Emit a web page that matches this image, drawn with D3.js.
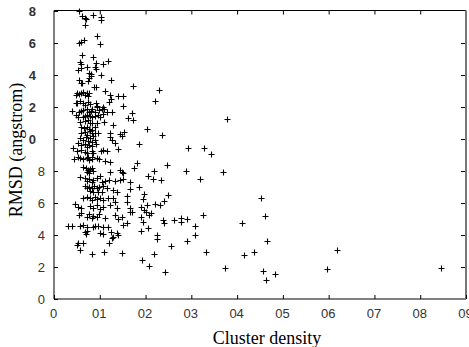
<!DOCTYPE html>
<html><head><meta charset="utf-8">
<script src="https://cdn.jsdelivr.net/npm/d3@7"></script>
<style>body{margin:0;background:#fff}svg{display:block}</style>
</head><body><svg id="c" width="469" height="347"></svg>
<script>
const xTickValues = [0,0.1,0.2,0.3,0.4,0.5,0.6,0.7,0.8,0.9];
const xTickLabels = ["0","01","02","03","04","05","06","07","08","09"];
const yTickValues = [0,2,4,6,8,10,12,14,16,18];
const yTickLabels = ["0","2","4","6","8","0","2","4","6","8"];
const xTitle = "Cluster density";
const yTitle = "RMSD (angstrom)";

const densityX = [
0.055,0.061,0.067,0.070,0.086,0.103,0.103,0.068,0.093,0.055,0.060,0.066,0.100,0.062,0.085,0.056,0.058,0.091,0.119,0.106,
0.060,0.071,0.090,0.091,0.052,0.077,0.081,0.080,0.076,0.102,0.124,0.054,0.059,0.074,
0.172,0.229,0.221,0.171,0.173,0.377,0.204,0.235,0.186,0.292,0.327,0.343,0.181,0.175,0.246,0.218,0.288,0.370,0.205,0.217,
0.233,0.320,0.166,0.166,0.186,0.197,0.194,0.250,0.240,0.232,0.221,0.203,0.190,0.453,0.166,0.166,0.197,0.202,0.207,0.211,
0.461,0.325,0.194,0.239,0.241,0.262,0.277,0.278,0.290,0.309,0.410,0.190,0.205,0.224,0.226,0.308,0.291,0.465,0.255,0.332,
0.218,0.416,0.437,0.193,0.207,0.242,0.373,0.457,0.463,0.483,0.597,0.619,0.845,
0.062,0.088,0.092,0.050,0.048,0.054,0.060,0.064,0.068,0.071,0.074,0.077,0.111,0.122,0.124,0.140,0.150,0.047,0.051,0.057,
0.064,0.068,0.075,0.079,0.092,0.093,0.108,0.110,0.121,0.151,0.039,0.055,0.060,0.064,0.073,0.077,0.080,0.084,0.090,0.093,
0.099,0.104,0.116,0.126,0.048,0.053,0.063,0.068,0.073,0.079,0.084,0.090,0.097,0.100,0.108,0.162,0.057,0.068,0.075,0.079,
0.084,0.093,0.109,0.129,0.060,0.066,0.071,0.077,0.082,0.090,0.060,0.068,0.071,0.079,0.082,0.086,0.090,0.097,0.122,0.144,
0.153,0.148,0.057,0.064,0.070,0.075,0.079,0.082,0.090,0.122,0.126,0.133,0.053,0.060,0.068,0.071,0.077,0.084,0.092,0.042,
0.050,0.060,0.068,0.073,0.082,0.086,0.102,0.106,0.116,0.140,0.044,0.057,0.064,0.075,0.084,0.099,
0.053,0.071,0.077,0.082,0.093,0.111,0.122,0.064,0.070,0.075,0.079,0.082,0.086,0.073,0.077,0.122,0.144,0.148,0.151,0.057,
0.068,0.071,0.077,0.082,0.086,0.093,0.100,0.104,0.111,0.121,0.133,0.144,0.151,0.068,0.073,0.077,0.082,0.087,0.093,0.099,
0.108,0.115,0.129,0.079,0.086,0.097,0.104,0.137,0.064,0.071,0.079,0.082,0.090,0.093,0.100,0.108,0.119,0.129,0.160,0.133,
0.159,0.046,0.053,0.060,0.079,0.086,0.093,0.100,0.108,0.122,0.137,0.055,0.060,0.071,0.077,0.082,0.086,0.093,0.099,0.111,
0.133,0.140,0.148,0.170,0.191,0.031,0.039,0.057,0.064,0.071,0.090,0.097,0.108,0.119,0.151,0.159,
0.086,0.068,0.073,0.070,0.100,0.106,0.124,0.128,0.126,0.137,0.139,0.053,0.050,0.063,0.057,0.082,0.110,0.121,0.148
];
const rmsdY = [
18.0,17.66,17.59,17.53,17.72,17.63,17.41,17.13,16.41,16.03,16.09,16.19,15.92,15.28,15.13,14.81,14.69,14.75,14.86,14.69,
14.46,14.52,14.5,14.36,14.29,14.13,14.04,13.92,13.83,14.02,13.71,13.69,13.52,13.63,
13.31,13.06,12.36,11.64,11.19,11.23,10.64,10.25,9.67,9.44,9.44,9.08,8.52,8.21,8.36,8.0,8.02,7.94,7.67,7.52,
7.44,7.52,7.33,6.86,7.0,6.54,6.27,6.48,6.14,5.88,5.96,5.89,5.77,6.31,5.67,5.46,5.56,5.46,5.25,5.36,
5.19,5.23,4.79,4.94,4.77,4.92,5.08,4.81,5.02,4.56,4.75,4.27,4.42,4.02,3.75,4.02,3.63,3.63,3.33,2.96,
2.79,2.73,2.94,2.42,2.04,1.67,1.92,1.77,1.19,1.54,1.89,3.08,1.94,
13.48,13.27,13.23,12.86,12.75,12.81,12.89,12.96,12.75,12.89,12.69,12.86,13.0,12.75,12.5,12.69,12.69,12.27,12.23,12.39,
12.23,12.13,12.31,12.19,12.27,12.06,12.02,11.86,12.31,12.06,11.77,11.71,11.77,11.81,11.86,11.71,11.77,11.86,11.71,11.98,
11.81,11.89,11.71,11.71,11.5,11.39,11.36,11.44,11.5,11.44,11.39,11.44,11.5,11.36,11.56,11.29,11.08,11.14,11.19,11.02,
10.98,10.98,11.08,10.88,10.77,10.67,10.77,10.61,10.56,10.73,10.36,10.46,10.25,10.52,10.36,10.19,10.39,10.36,10.36,10.31,
10.46,10.19,10.04,9.94,10.11,9.89,10.04,9.83,9.94,10.11,9.94,9.77,9.73,9.63,9.69,9.52,9.63,9.56,9.69,9.42,
9.27,9.31,9.21,9.11,9.27,9.11,9.27,9.31,9.27,9.36,8.73,8.79,8.73,8.86,8.77,8.73,
8.89,8.83,8.69,8.89,8.79,8.63,8.54,8.27,8.17,8.06,8.13,8.21,8.0,7.92,7.86,7.96,8.06,7.92,7.86,7.64,
7.54,7.38,7.5,7.33,7.44,7.54,7.71,7.33,7.38,7.44,7.38,7.44,7.5,7.08,6.96,7.02,6.92,7.08,6.96,7.02,
7.08,6.92,6.81,6.75,6.67,6.71,6.67,6.67,6.33,6.39,6.29,6.19,6.39,6.25,6.33,6.19,6.29,6.33,6.46,6.08,
6.08,5.92,5.77,5.67,5.83,5.71,5.88,5.63,5.77,5.88,5.67,5.25,5.36,5.14,5.29,5.04,5.21,5.14,5.29,5.04,
5.25,5.0,5.14,5.42,5.14,4.58,4.58,4.54,4.63,4.52,4.58,4.58,4.52,4.52,4.63,4.73,
4.52,4.17,4.25,4.04,4.11,4.04,4.21,3.89,3.79,4.11,4.0,3.48,3.38,3.48,3.06,2.79,2.96,3.48,2.86
];

const svg = d3.select("#c");
const L = 54, R = 466, T = 10.5, B = 299;
const x = d3.scaleLinear().domain([0, 0.9]).range([L, R]);
const y = d3.scaleLinear().domain([0, 18]).range([B, 11]);

// frame
svg.append("line").attr("x1",L).attr("x2",R).attr("y1",T).attr("y2",T).attr("stroke","#000").attr("stroke-width",1);
svg.append("line").attr("x1",L).attr("x2",L).attr("y1",T).attr("y2",B).attr("stroke","#000").attr("stroke-width",1);
svg.append("line").attr("x1",L).attr("x2",R).attr("y1",B).attr("y2",B).attr("stroke","#000").attr("stroke-width",1);
svg.append("line").attr("x1",R).attr("x2",R).attr("y1",T).attr("y2",B).attr("stroke","#777").attr("stroke-width",2);

const fmtX = d => xTickLabels[xTickValues.indexOf(d)];
const fmtY = d => yTickLabels[yTickValues.indexOf(d)];

const gx = svg.append("g").attr("transform",`translate(0,${B})`)
  .call(d3.axisBottom(x).tickValues(xTickValues).tickFormat(fmtX).tickSizeInner(-4).tickSizeOuter(0).tickPadding(10));
gx.select(".domain").remove();
gx.selectAll("text").attr("font-family","'Liberation Sans', Arial, sans-serif").attr("font-size",13).attr("fill","#333").attr("dx",-1);
gx.selectAll("line").attr("stroke","#000");

const gy = svg.append("g").attr("transform",`translate(${L},0)`)
  .call(d3.axisLeft(y).tickValues(yTickValues).tickFormat(fmtY).tickSizeInner(-4).tickSizeOuter(0).tickPadding(9));
gy.select(".domain").remove();
gy.selectAll("text").attr("font-family","'Liberation Sans', Arial, sans-serif").attr("font-size",13).attr("fill","#333")
  .attr("x", d => d >= 10 ? -18 : -9)
  .attr("font-weight", d => d >= 10 ? "bold" : "normal");
gy.selectAll("line").attr("stroke","#000");

const gt = svg.append("g").attr("transform",`translate(0,${T})`)
  .call(d3.axisTop(x).tickValues(xTickValues.slice(1,-1)).tickFormat("").tickSizeInner(-4).tickSizeOuter(0));
gt.select(".domain").remove();
const gr = svg.append("g").attr("transform",`translate(${R-1},0)`)
  .call(d3.axisRight(y).tickValues(yTickValues.slice(1,-1)).tickFormat("").tickSizeInner(-4).tickSizeOuter(0));
gr.select(".domain").remove();

// points
const pts = densityX.map((d,i) => [d, rmsdY[i]]);
const s = 3;
svg.append("g").selectAll("path").data(pts).join("path")
  .attr("d", d => { const px = Math.round(x(d[0]))+0.5, py = Math.round(y(d[1]))+0.5;
    return `M${px-s},${py}H${px+s}M${px},${py-s}V${py+s}`; })
  .attr("stroke","#000").attr("stroke-width",1.1).attr("fill","none");

// titles
svg.append("text").attr("x",267).attr("y",344).attr("text-anchor","middle")
  .attr("font-family","'Liberation Serif', 'Times New Roman', serif").attr("font-size",18).text(xTitle);
svg.append("text").attr("transform","translate(22,150) rotate(-90)").attr("text-anchor","middle")
  .attr("font-family","'Liberation Serif', 'Times New Roman', serif").attr("font-size",18).text(yTitle);
</script></body></html>
